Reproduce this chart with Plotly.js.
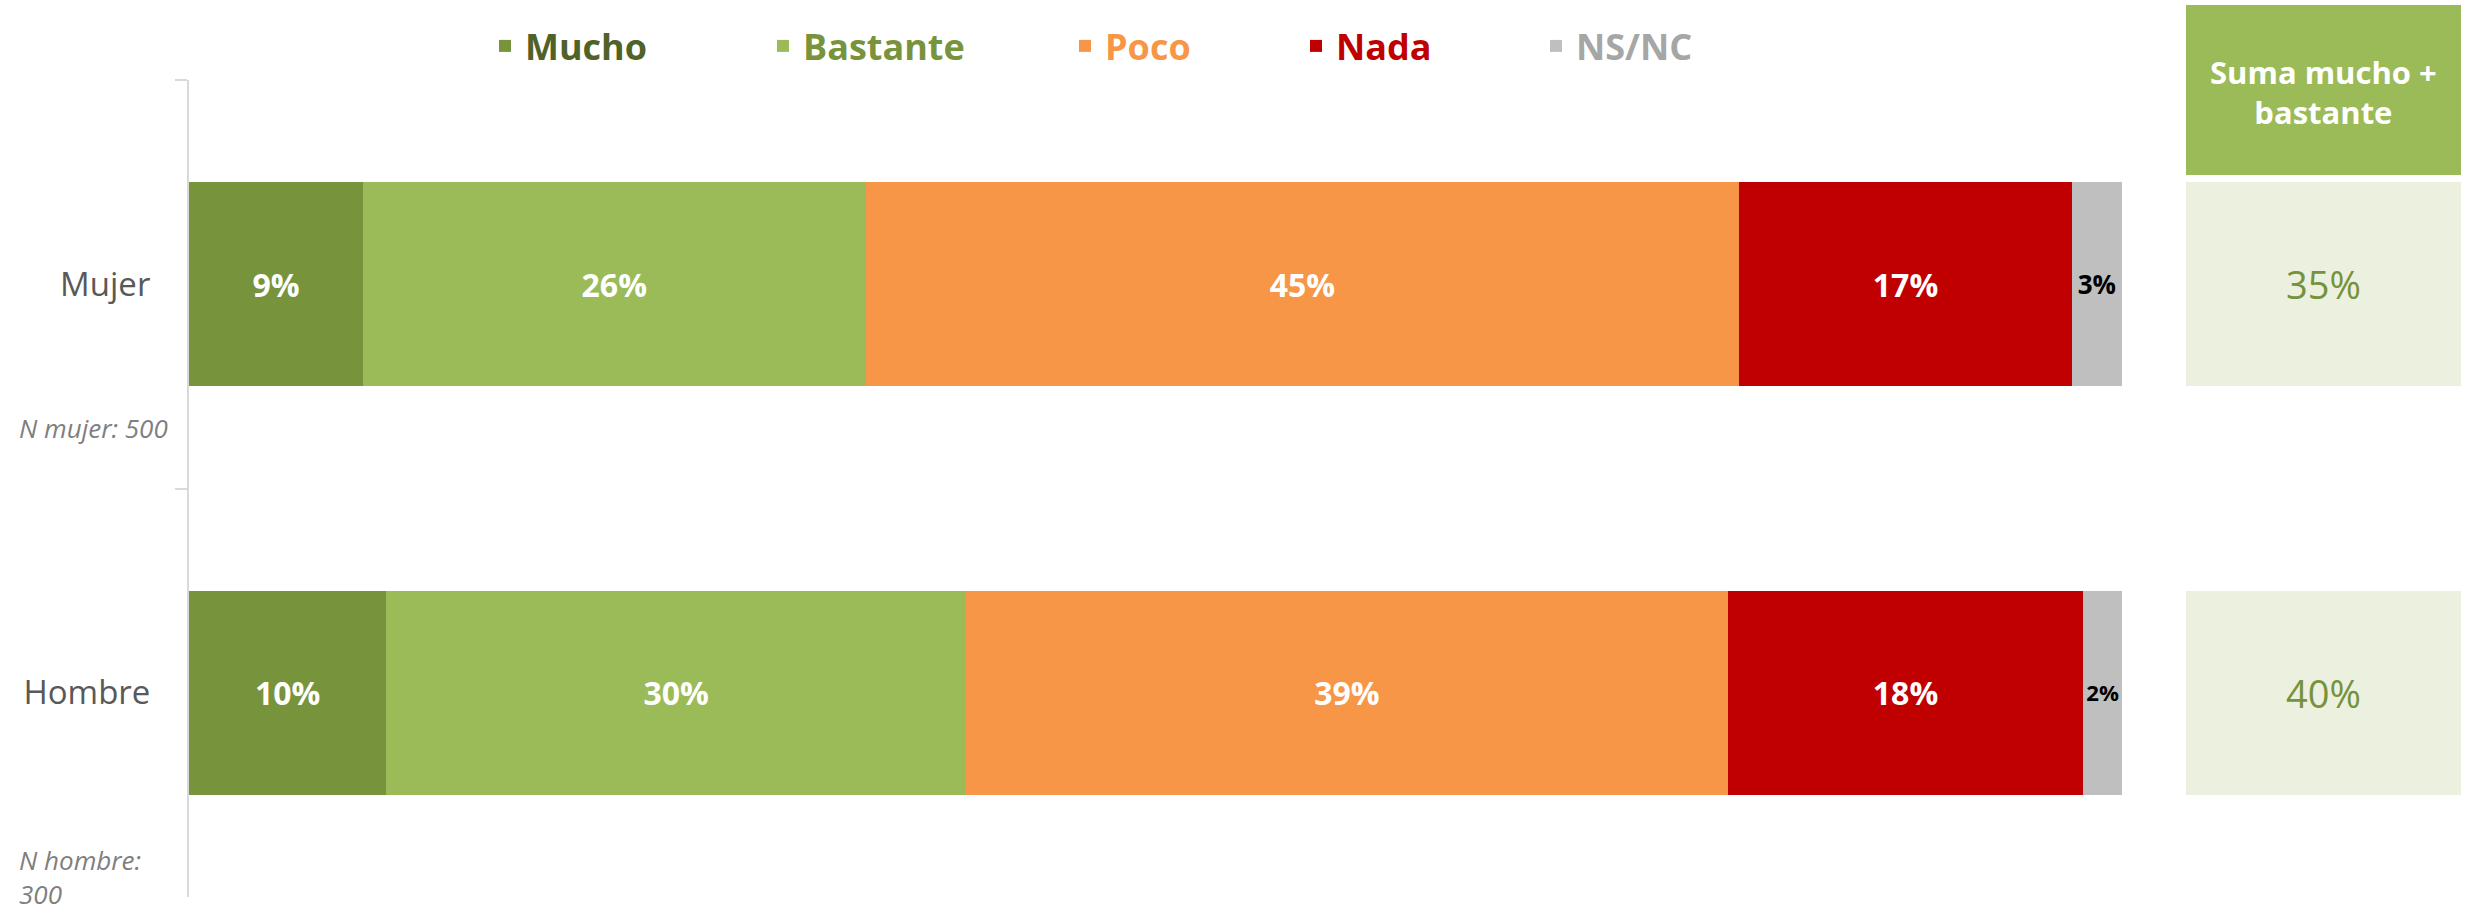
<!DOCTYPE html>
<html>
<head>
<meta charset="utf-8">
<script src="https://cdn.plot.ly/plotly-3.0.1.min.js"></script>
<style>
  html, body { margin: 0; padding: 0; background: #ffffff; }
  #chart { width: 2473px; height: 916px; }
</style>
</head>
<body>
<div id="chart"></div>
<script>
// ---- Data ----
const categories = ['Mujer', 'Hombre'];
const seriesNames = ['Mucho', 'Bastante', 'Poco', 'Nada', 'NS/NC'];
const mucho    = [9.0, 10.2];
const bastante = [26.0, 30.0];
const poco     = [45.2, 39.4];
const nada     = [17.2, 18.4];
const nsnc     = [2.6, 2.0];
const sampleNotes = ['N mujer: 500', 'N hombre:<br>300'];
const sumaTitle = 'Suma mucho +<br>bastante';

// ---- Styles ----
const FONT = 'Open Sans, Noto Sans, DejaVu Sans, sans-serif';
const barColors  = ['#77933c', '#9bbb59', '#f79646', '#c00000', '#bfbfbf'];
const legendText = ['#4f6228', '#77933c', '#f79646', '#c00000', '#a6a6a6'];
const labelColors = ['#ffffff', '#ffffff', '#ffffff', '#ffffff', '#000000'];
const labelSizes  = [32, 32, 32, 32, 26];
const legendTextX = [527, 805, 1107, 1338, 1578]; // px where each legend text starts
const W = 2473, H = 916;

const seriesValues = [mucho, bastante, poco, nada, nsnc];
const legendKeys = ['legend', 'legend2', 'legend3', 'legend4', 'legend5'];

const traces = seriesValues.map((vals, i) => ({
  type: 'bar',
  orientation: 'h',
  name: seriesNames[i],
  x: vals,
  y: categories,
  xaxis: 'x',
  yaxis: 'y',
  legend: legendKeys[i],
  marker: { color: barColors[i], line: { width: 0 } },
  texttemplate: '%{x:.0f}%',
  textposition: 'inside',
  insidetextanchor: 'middle',
  textangle: 0,
  insidetextfont: { family: FONT, size: labelSizes[i], color: labelColors[i], weight: 700 },
  hoverinfo: 'name+x'
}));

// Sum mucho + bastante (right panel)
const suma = categories.map((c, k) => Math.round(mucho[k] + bastante[k]));
traces.push({
  type: 'bar',
  orientation: 'h',
  x: categories.map(() => 1),
  y: categories,
  xaxis: 'x2',
  yaxis: 'y',
  showlegend: false,
  marker: { color: '#ebf1de', line: { width: 0 } },
  text: suma.map(v => v + '%'),
  textposition: 'inside',
  insidetextanchor: 'middle',
  textangle: 0,
  insidetextfont: { family: FONT, size: 38, color: '#76923c' },
  hoverinfo: 'skip'
});

// ---- Layout geometry ----
const plotLeft = 189, plotRight = 2461, plotTop = 80, plotBottom = 897;
const paperW = plotRight - plotLeft, paperH = plotBottom - plotTop;
const px2x = px => (px - plotLeft) / paperW;
const py2y = py => 1 - (py - plotTop) / paperH;

const layout = {
  width: W, height: H,
  autosize: false,
  margin: { l: plotLeft, r: W - plotRight, t: plotTop, b: H - plotBottom, pad: 0 },
  paper_bgcolor: '#ffffff',
  plot_bgcolor: '#ffffff',
  barmode: 'stack',
  bargap: 0.5,
  font: { family: FONT, color: '#595959' },
  xaxis: {
    domain: [0, px2x(2122)],
    range: [0, 100],
    visible: false,
    fixedrange: true
  },
  xaxis2: {
    domain: [px2x(2186), 1],
    range: [0, 1],
    visible: false,
    anchor: 'y',
    fixedrange: true
  },
  yaxis: {
    autorange: 'reversed',
    showline: true,
    linecolor: '#d9d9d9',
    linewidth: 2,
    ticks: 'outside',
    tickson: 'boundaries',
    ticklen: 12,
    tickwidth: 2,
    tickcolor: '#d9d9d9',
    ticklabelstandoff: 30,
    showgrid: false,
    zeroline: false,
    tickfont: { family: FONT, size: 33, color: '#595959' },
    fixedrange: true
  },
  shapes: [{
    type: 'rect',
    xref: 'x2 domain', x0: 0, x1: 1,
    yref: 'paper', y0: py2y(175), y1: py2y(5),
    fillcolor: '#9bbb59',
    line: { width: 0 }
  }],
  annotations: [
    {
      xref: 'x2 domain', x: 0.5,
      yref: 'paper', y: py2y(92),
      text: sumaTitle,
      showarrow: false,
      xanchor: 'center', yanchor: 'middle',
      align: 'center',
      font: { family: FONT, size: 31, color: '#ffffff', weight: 700 }
    },
    {
      xref: 'paper', x: px2x(17),
      yref: 'paper', y: py2y(428),
      text: '<i>' + sampleNotes[0] + '</i>',
      showarrow: false,
      xanchor: 'left', yanchor: 'middle', align: 'left',
      font: { family: FONT, size: 26, color: '#7f7f7f' }
    },
    {
      xref: 'paper', x: px2x(17),
      yref: 'paper', y: py2y(914),
      text: '<i>' + sampleNotes[1] + '</i>',
      showarrow: false,
      xanchor: 'left', yanchor: 'bottom', align: 'left',
      font: { family: FONT, size: 26, color: '#7f7f7f' }
    }
  ],
  showlegend: true
};

legendKeys.forEach((key, i) => {
  layout[key] = {
    orientation: 'h',
    xref: 'container', yref: 'container',
    x: (legendTextX[i] - 42) / W,
    y: 1 - 46 / H,
    xanchor: 'left', yanchor: 'middle',
    bgcolor: 'rgba(0,0,0,0)',
    borderwidth: 0,
    font: { family: FONT, size: 36, color: legendText[i], weight: 700 },
    itemclick: false, itemdoubleclick: false
  };
});

Plotly.newPlot('chart', traces, layout, { displayModeBar: false, staticPlot: true });
</script>
</body>
</html>
